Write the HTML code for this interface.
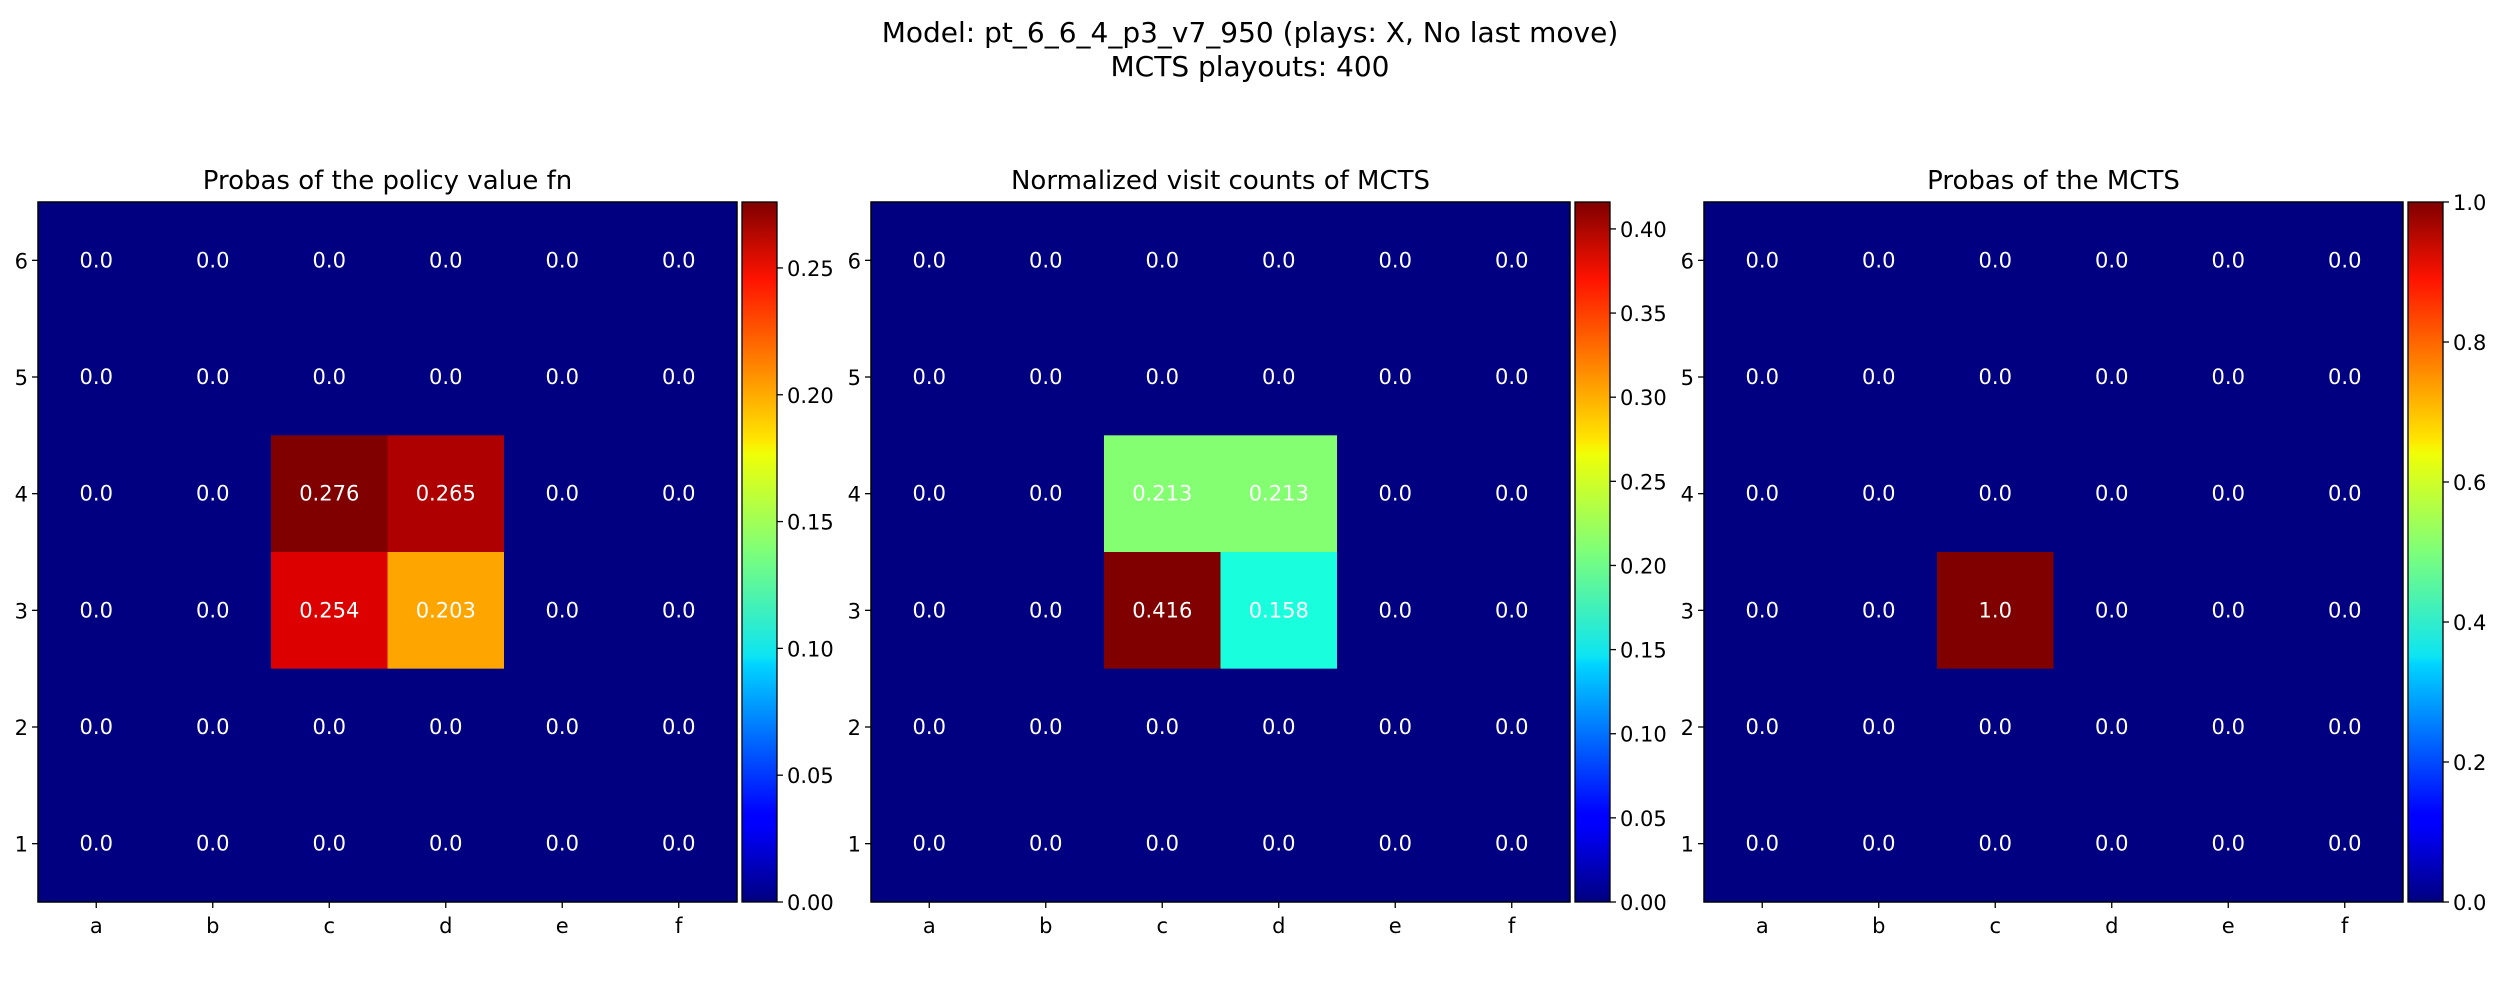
<!DOCTYPE html>
<html><head><meta charset="utf-8"><style>
body{margin:0;background:#fff;}
svg{display:block;font-family:"DejaVu Sans","Liberation Sans",sans-serif;}
</style></head><body>
<svg id="fig" width="2500" height="1000" viewBox="0 0 2500 1000">
<text x="1250" y="42" font-size="28" text-anchor="middle">Model: pt_6_6_4_p3_v7_950 (plays: X, No last move)</text>
<text x="1250" y="76" font-size="28" text-anchor="middle">MCTS playouts: 400</text>
<defs>
<linearGradient id="jet" x1="0" y1="1" x2="0" y2="0">
<stop offset="0" stop-color="#00007f"/><stop offset="0.11" stop-color="#0000ff"/><stop offset="0.125" stop-color="#0000ff"/>
<stop offset="0.34" stop-color="#00d4ff"/><stop offset="0.35" stop-color="#0ce4f3"/><stop offset="0.5" stop-color="#7dff7a"/>
<stop offset="0.64" stop-color="#f0ff07"/><stop offset="0.66" stop-color="#ffe600"/><stop offset="0.89" stop-color="#ff1300"/>
<stop offset="1" stop-color="#7f0000"/></linearGradient>
</defs>
</svg>
<script>
const cols=['a','b','c','d','e','f'];
const rows=['6','5','4','3','2','1'];
const titles=['Probas of the policy value fn','Normalized visit counts of MCTS','Probas of the MCTS'];
// values row-major, top row (6) first
const valuesP1=[[0,0,0,0,0,0],[0,0,0,0,0,0],[0,0,0.276,0.265,0,0],[0,0,0.254,0.203,0,0],[0,0,0,0,0,0],[0,0,0,0,0,0]];
const valuesP2=[[0,0,0,0,0,0],[0,0,0,0,0,0],[0,0,0.213,0.213,0,0],[0,0,0.416,0.158,0,0],[0,0,0,0,0,0],[0,0,0,0,0,0]];
const valuesP3=[[0,0,0,0,0,0],[0,0,0,0,0,0],[0,0,0,0,0,0],[0,0,1.0,0,0,0],[0,0,0,0,0,0],[0,0,0,0,0,0]];
const ticksP1=[0,0.05,0.10,0.15,0.20,0.25];
const ticksP2=[0,0.05,0.10,0.15,0.20,0.25,0.30,0.35,0.40];
const ticksP3=[0,0.2,0.4,0.6,0.8,1.0];
const tickFmt=[2,2,1];
const allValues=[valuesP1,valuesP2,valuesP3];
const allTicks=[ticksP1,ticksP2,ticksP3];
const lefts=[38,871,1704];
const W=699,H=700,TOP=202;
const svg=document.getElementById('fig');
const NS='http://www.w3.org/2000/svg';
function mk(t,a,p){const e=document.createElementNS(NS,t);for(const k in a)e.setAttribute(k,a[k]);(p||svg).appendChild(e);return e;}
function interp(x,pts){for(let i=1;i<pts.length;i++){if(x<=pts[i][0]){const a=pts[i-1],b=pts[i];return a[1]+(b[1]-a[1])*(x-a[0])/(b[0]-a[0]);}}return pts[pts.length-1][1];}
const JR=[[0,0],[0.35,0],[0.66,1],[0.89,1],[1,0.5]];
const JG=[[0,0],[0.125,0],[0.375,1],[0.64,1],[0.91,0],[1,0]];
const JB=[[0,0.5],[0.11,1],[0.34,1],[0.65,0],[1,0]];
function jet(x){x=Math.max(0,Math.min(1,x));
return 'rgb('+Math.round(interp(x,JR)*255)+','+Math.round(interp(x,JG)*255)+','+Math.round(interp(x,JB)*255)+')';}
function fmt(v){if(v===0)return '0.0';let s=String(Math.round(v*1000)/1000);if(s.indexOf('.')<0)s+='.0';return s;}
for(let p=0;p<3;p++){
  const vals=allValues[p],ticks=allTicks[p];
  let vmax=0;vals.forEach(r=>r.forEach(v=>{if(v>vmax)vmax=v;}));
  const L=lefts[p],cw=W/cols.length,ch=H/rows.length;
  const xS=i=>L+i*cw, yS=j=>TOP+j*ch;
  const g=mk('g',{});
  
  
  const t=mk('text',{x:L+W/2,y:TOP-13,'font-size':26,'text-anchor':'middle'},g);
  t.textContent=titles[p];
  
  
  for(let j=0;j<rows.length;j++)for(let i=0;i<cols.length;i++){
    const v=vals[j][i];
    const r=mk('rect',{x:xS(i),y:yS(j),width:cw+0.5,height:ch+0.5,fill:jet(v/vmax)},g);
    
    
    const tx=mk('text',{x:xS(i)+cw/2,y:yS(j)+ch/2+7,'font-size':21,fill:'#fff','text-anchor':'middle'},g);
    tx.textContent=fmt(v);
    
    
  }
  mk('rect',{x:L,y:TOP,width:W,height:H,fill:'none',stroke:'#000','stroke-width':1.5},g);
  for(let i=0;i<cols.length;i++){
    const x=xS(i)+cw/2;
    mk('line',{x1:x,x2:x,y1:TOP+H,y2:TOP+H+6,stroke:'#000','stroke-width':1.3},g);
    const tx=mk('text',{x:x,y:TOP+H+31,'font-size':21,'text-anchor':'middle'},g);
    tx.textContent=cols[i];
    
    
  }
  for(let j=0;j<rows.length;j++){
    const y=yS(j)+ch/2;
    mk('line',{x1:L-6,x2:L,y1:y,y2:y,stroke:'#000','stroke-width':1.3},g);
    const tx=mk('text',{x:L-10,y:y+8,'font-size':21,'text-anchor':'end'},g);
    tx.textContent=rows[j];
    
    
  }
  const cx=L+W+5,cwid=35;
  const cb=mk('rect',{x:cx,y:TOP,width:cwid,height:H,fill:'url(#jet)',stroke:'#000','stroke-width':1.3},g);
  
  
  ticks.forEach(tv=>{
    const y=TOP+H-tv/vmax*H;
    mk('line',{x1:cx+cwid,x2:cx+cwid+6,y1:y,y2:y,stroke:'#000','stroke-width':1.3},g);
    const tx=mk('text',{x:cx+cwid+10,y:y+8,'font-size':21},g);
    tx.textContent=tv.toFixed(tickFmt[p]);
    
    
  });
}
</script>
</body></html>
